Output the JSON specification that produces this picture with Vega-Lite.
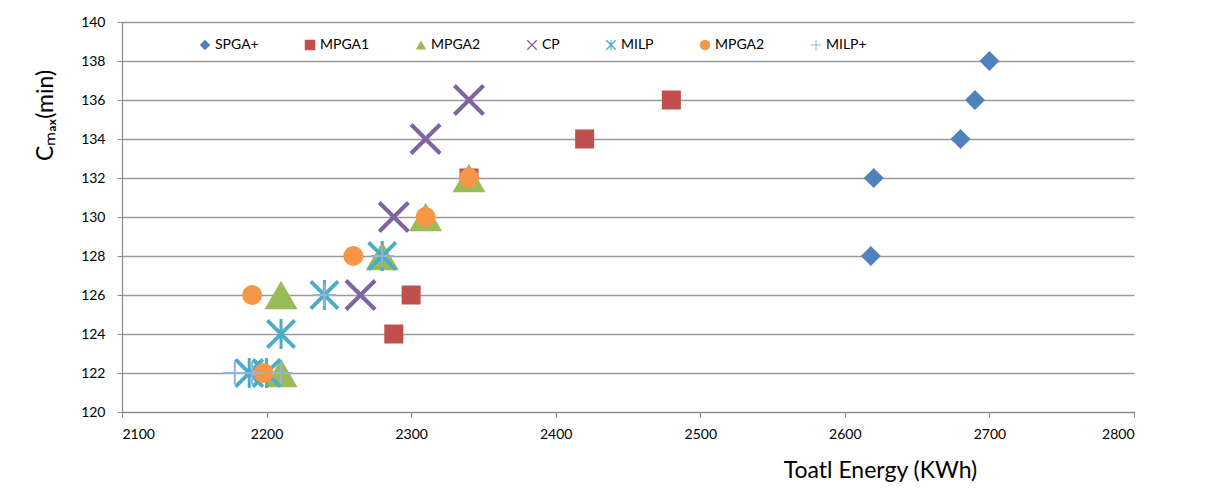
{
  "$schema": "https://vega.github.io/schema/vega-lite/v6.json",
  "width": 1012,
  "height": 390,
  "autosize": {"type": "none"},
  "padding": {"left": 122, "top": 22, "right": 71, "bottom": 85},
  "background": "white",
  "config": {
    "font": "Lato",
    "view": {"stroke": null},
    "axis": {"labelFont": "Lato", "titleFont": "Lato", "labelFontSize": 14, "labelColor": "#000", "titleColor": "#000", "titleFontWeight": "normal", "domainColor": "#8a8a8a", "tickColor": "#8a8a8a", "gridColor": "#9a9a9a", "gridWidth": 1.5, "domainWidth": 1.2}
  },
  "data": {
    "values": [
      {"series": "SPGA+", "energy": 2700, "cmax": 138},
      {"series": "SPGA+", "energy": 2690, "cmax": 136},
      {"series": "SPGA+", "energy": 2680, "cmax": 134},
      {"series": "SPGA+", "energy": 2620, "cmax": 132},
      {"series": "SPGA+", "energy": 2618, "cmax": 128},
      {"series": "MPGA1", "energy": 2480, "cmax": 136},
      {"series": "MPGA1", "energy": 2420, "cmax": 134},
      {"series": "MPGA1", "energy": 2340, "cmax": 132},
      {"series": "MPGA1", "energy": 2300, "cmax": 126},
      {"series": "MPGA1", "energy": 2288, "cmax": 124},
      {"series": "MPGA2", "energy": 2340, "cmax": 132},
      {"series": "MPGA2", "energy": 2310, "cmax": 130},
      {"series": "MPGA2", "energy": 2280, "cmax": 128},
      {"series": "MPGA2", "energy": 2210, "cmax": 126},
      {"series": "MPGA2", "energy": 2210, "cmax": 122},
      {"series": "CP", "energy": 2340, "cmax": 136},
      {"series": "CP", "energy": 2310, "cmax": 134},
      {"series": "CP", "energy": 2288, "cmax": 130},
      {"series": "CP", "energy": 2265, "cmax": 126},
      {"series": "MILP", "energy": 2280, "cmax": 128},
      {"series": "MILP", "energy": 2240, "cmax": 126},
      {"series": "MILP", "energy": 2210, "cmax": 124},
      {"series": "MILP", "energy": 2188, "cmax": 122},
      {"series": "MILP", "energy": 2200, "cmax": 122},
      {"series": "MPGA2b", "energy": 2340, "cmax": 132},
      {"series": "MPGA2b", "energy": 2310, "cmax": 130},
      {"series": "MPGA2b", "energy": 2260, "cmax": 128},
      {"series": "MPGA2b", "energy": 2190, "cmax": 126},
      {"series": "MPGA2b", "energy": 2198, "cmax": 122},
      {"series": "MILP+", "energy": 2280, "cmax": 128},
      {"series": "MILP+", "energy": 2240, "cmax": 126},
      {"series": "MILP+", "energy": 2178, "cmax": 122},
      {"series": "MILP+", "energy": 2190, "cmax": 122},
      {"series": "MILP+", "energy": 2210, "cmax": 122}
    ]
  },
  "mark": {"type": "point", "filled": true, "opacity": 1, "strokeWidth": 0},
  "encoding": {
    "x": {
      "field": "energy", "type": "quantitative",
      "scale": {"domain": [2100, 2800], "nice": false, "zero": false},
      "axis": {"values": [2100, 2200, 2300, 2400, 2500, 2600, 2700, 2800], "format": "d", "grid": false, "tickSize": 5, "labelPadding": 10, "title": "Toatl Energy (KWh)", "titleFontSize": 23, "titleX": 758, "titleY": 58, "titleBaseline": "middle"}
    },
    "y": {
      "field": "cmax", "type": "quantitative",
      "scale": {"domain": [120, 140], "nice": false, "zero": false},
      "axis": {"values": [120, 122, 124, 126, 128, 130, 132, 134, 136, 138, 140], "format": "d", "grid": true, "tickSize": 5, "labelPadding": 12, "title": "Cₘₐₓ(min)", "titleFontSize": 23, "titleX": -77, "titleY": 93, "titleAngle": -90, "titleAlign": "center", "titleBaseline": "middle"}
    },
    "color": {
      "field": "series", "type": "nominal",
      "scale": {
        "domain": ["SPGA+", "MPGA1", "MPGA2", "CP", "MILP", "MPGA2b", "MILP+"],
        "range": ["#4F81BD", "#C0504D", "#9BBB59", "#8064A2", "#4BACC6", "#F79646", "#95B3D7"]
      },
      "legend": {
        "orient": "none", "direction": "horizontal", "columns": 7,
        "legendX": 76, "legendY": 16, "title": null,
        "symbolSize": 110, "symbolStrokeWidth": 0, "labelFontSize": 14, "labelFont": "Lato",
        "labelOffset": 3, "columnPadding": 44, "padding": 0,
        "labelExpr": "datum.label == 'MPGA2b' ? 'MPGA2' : datum.label"
      }
    },
    "shape": {
      "field": "series", "type": "nominal",
      "scale": {
        "domain": ["SPGA+", "MPGA1", "MPGA2", "CP", "MILP", "MPGA2b", "MILP+"],
        "range": [
          "diamond", "square", "triangle-up",
          "M-1,-0.82L-0.82,-1L0,-0.18L0.82,-1L1,-0.82L0.18,0L1,0.82L0.82,1L0,0.18L-0.82,1L-1,0.82L-0.18,0Z",
          "M-1,-0.82L-0.82,-1L0,-0.18L0.82,-1L1,-0.82L0.18,0L1,0.82L0.82,1L0,0.18L-0.82,1L-1,0.82L-0.18,0ZM-0.1,-1L0.1,-1L0.1,1L-0.1,1Z",
          "circle",
          "M-1,-0.09L-0.09,-0.09L-0.09,-1L0.09,-1L0.09,-0.09L1,-0.09L1,0.09L0.09,0.09L0.09,1L-0.09,1L-0.09,0.09L-1,0.09Z"
        ]
      }
    },
    "size": {
      "field": "series", "type": "nominal",
      "scale": {
        "type": "ordinal",
        "domain": ["MILP+", "SPGA+", "MPGA1", "MPGA2", "CP", "MILP", "MPGA2b"],
        "range": [529, 400, 361, 1089, 1024, 900, 400]
      },
      "legend": null
    }
  }
}
